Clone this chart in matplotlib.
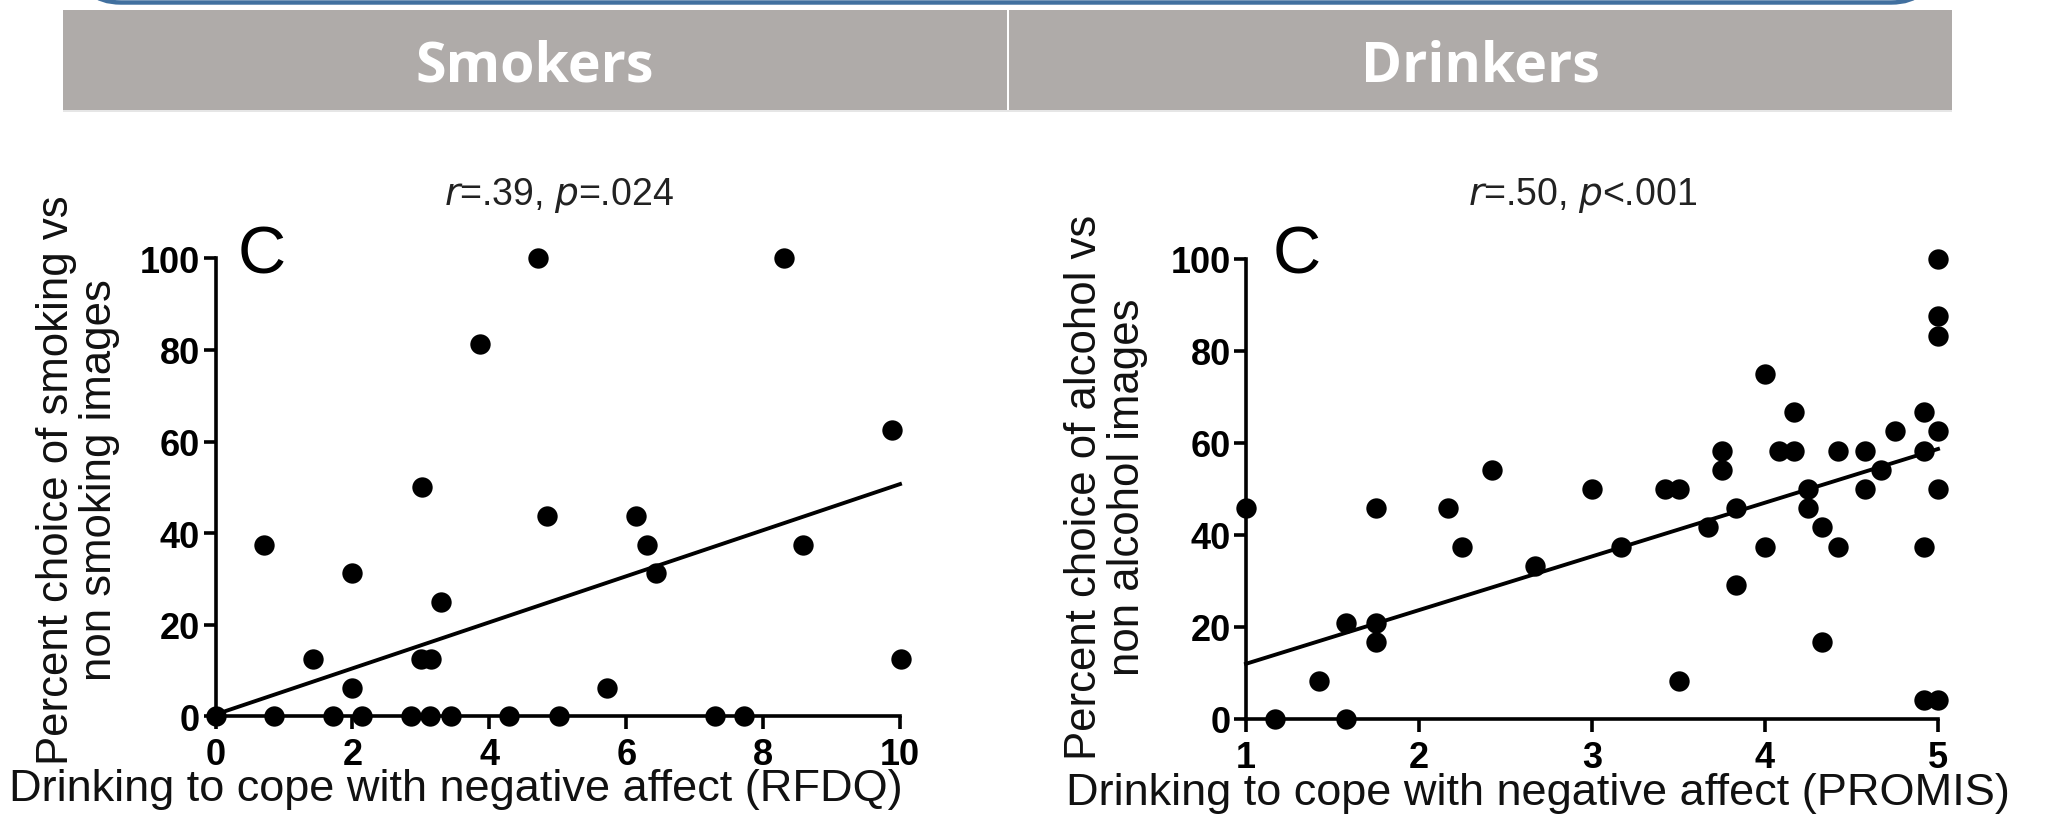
import matplotlib
matplotlib.use("Agg")
import matplotlib.pyplot as plt
from matplotlib.patches import Rectangle, FancyBboxPatch
import numpy as np

# ---------------- data ----------------
smk_x = [0, 0.86, 1.71, 2.14, 2.86, 3.14, 3.44, 4.29, 5.02, 7.30, 7.72,
         4.71, 8.31, 3.87, 9.88, 3.01, 4.85, 6.15, 0.71, 6.31, 8.59,
         2.00, 6.44, 3.30, 1.43, 3.00, 3.15, 10.02, 2.00, 5.72]
smk_y = [0, 0, 0, 0, 0, 0, 0, 0, 0, 0, 0,
         100, 100, 81.25, 62.5, 50, 43.75, 43.75, 37.5, 37.5, 37.5,
         31.25, 31.25, 25, 12.5, 12.5, 12.5, 12.5, 6.25, 6.25]
smk_fit_x = [0, 10]
smk_fit_y = [0.4, 50.7]

drk_x = [1.00, 1.17, 1.42, 1.58, 1.58, 1.75, 1.75, 1.75, 2.17, 2.25, 2.42,
         2.67, 3.00, 3.17, 3.42, 3.50, 3.50, 3.67, 3.75, 3.75, 3.83, 3.83,
         4.00, 4.00, 4.08, 4.17, 4.17, 4.25, 4.25, 4.33, 4.33, 4.42, 4.42,
         4.58, 4.58, 4.67, 4.75, 4.92, 4.92, 4.92, 4.92, 5.00, 5.00, 5.00,
         5.00, 5.00, 5.00]
drk_y = [45.83, 0, 8.33, 20.83, 0, 45.83, 20.83, 16.67, 45.83, 37.5, 54.17,
         33.33, 50, 37.5, 50, 50, 8.33, 41.67, 58.33, 54.17, 45.83, 29.17,
         75, 37.5, 58.33, 58.33, 66.67, 50, 45.83, 41.67, 16.67, 58.33, 37.5,
         58.33, 50, 54.17, 62.5, 66.67, 58.33, 37.5, 4.17, 4.17, 62.5, 50,
         83.33, 87.5, 100]
drk_fit_x = [1, 5]
drk_fit_y = [12.0, 58.7]

smk_xticks = [0, 2, 4, 6, 8, 10]
drk_xticks = [1, 2, 3, 4, 5]
yticks = [0, 20, 40, 60, 80, 100]

headers = ["Smokers", "Drinkers"]
titles = ["r=.39, p=.024", "r=.50, p<.001"]
xlabels = ["Drinking to cope with negative affect (RFDQ)",
           "Drinking to cope with negative affect (PROMIS)"]
ylabels = ["Percent choice of smoking vs\nnon smoking images",
           "Percent choice of alcohol vs\nnon alcohol images"]

# ---------------- figure ----------------
W, H = 2047, 828
fig = plt.figure(figsize=(W / 100, H / 100), dpi=100)
fig.patch.set_facecolor("white")

def fx(px):
    return px / W

def fy(py):
    return 1 - py / H

# top blue rounded frame (bottom edge visible)
frame = FancyBboxPatch((fx(80), fy(3.5)), fx(1932) - fx(80), 0.2,
                       boxstyle="round,pad=0,rounding_size=0.02",
                       transform=fig.transFigure, facecolor="white",
                       edgecolor="#41709f", linewidth=3.2, zorder=1,
                       mutation_aspect=W / H)
fig.patches.append(frame)

gray = "#afaba9"
# header bars
for (x0, x1), name, cx in zip([(63, 1007), (1009, 1952)], headers, [535, 1480]):
    fig.patches.append(Rectangle((fx(x0), fy(111)), fx(x1) - fx(x0), 100 / H,
                                 transform=fig.transFigure, facecolor=gray,
                                 edgecolor="none", zorder=1))
    fig.text(fx(cx), fy(61), name, ha="center", va="center_baseline",
             fontsize=40, fontfamily="Open Sans", fontweight="bold",
             color="white")
fig.patches.append(Rectangle((fx(63), fy(112.5)), fx(1952) - fx(63), 1.5 / H,
                             transform=fig.transFigure, facecolor="#e6e6e6",
                             edgecolor="none", zorder=1))

def style_axes(ax):
    for s in ["top", "right"]:
        ax.spines[s].set_visible(False)
    for s in ["left", "bottom"]:
        ax.spines[s].set_linewidth(2.6)
        ax.spines[s].set_color("black")
    ax.tick_params(direction="out", length=9, width=2.6, colors="black",
                   labelsize=26)
    ax.tick_params(axis="y", pad=2)
    ax.tick_params(axis="x", pad=6)
    for lab in ax.get_xticklabels() + ax.get_yticklabels():
        lab.set_fontweight("bold")
        lab.set_fontfamily("Liberation Sans")

def title_text(ax, t, cx):
    r, rest = t.split("=", 1)
    r_part, p_part = rest.split(", ")
    p_rest = p_part[1:]
    s = r"$\it{r}$" + "=" + r_part + ", " + r"$\it{p}$" + p_rest
    fig.text(fx(cx), fy(196), s, ha="center", va="center", fontsize=27,
             fontfamily="Liberation Sans", color="#222222")

marker_s = 215

# left panel
ax1 = fig.add_axes([fx(215.5), fy(717.3), fx(900) - fx(215.5), 458 / H])
ax1.scatter(smk_x, smk_y, s=marker_s, color="black", zorder=3, clip_on=False,
            linewidths=0)
ax1.plot(smk_fit_x, smk_fit_y, color="black", lw=2.8, zorder=2, clip_on=False)
ax1.set_xlim(0, 10)
ax1.set_ylim(0, 100)
ax1.set_xticks(smk_xticks)
ax1.set_yticks(yticks)
style_axes(ax1)

# right panel
ax2 = fig.add_axes([fx(1246), fy(720), fx(1938) - fx(1246), 460 / H])
ax2.scatter(drk_x, drk_y, s=marker_s, color="black", zorder=3, clip_on=False,
            linewidths=0)
ax2.plot(drk_fit_x, drk_fit_y, color="black", lw=2.8, zorder=2, clip_on=False)
ax2.set_xlim(1, 5)
ax2.set_ylim(0, 100)
ax2.set_xticks(drk_xticks)
ax2.set_yticks(yticks)
style_axes(ax2)

# titles
for ax, t, cx in zip([ax1, ax2], titles, [559, 1583]):
    title_text(ax, t, cx)

# C panel letters
for ax, cx in zip([ax1, ax2], [262, 1297]):
    fig.text(fx(cx), fy(256), "C", ha="center", va="center", fontsize=48,
             fontfamily="Liberation Sans", color="black")

# x labels
for lbl, x0, yc in zip(xlabels, [9, 1066], [790, 794]):
    fig.text(fx(x0), fy(yc), lbl, ha="left", va="center", fontsize=32.5,
             fontfamily="Liberation Sans", color="#111111")

# y labels
for lbl, xc, yc in zip(ylabels, [78, 1106], [480, 487]):
    fig.text(fx(xc), fy(yc), lbl, ha="center", va="center", rotation=90,
             fontsize=31.5, fontfamily="Liberation Sans", color="#111111",
             linespacing=1.08, multialignment="center")

fig.savefig("out.png", dpi=100, facecolor="white")
